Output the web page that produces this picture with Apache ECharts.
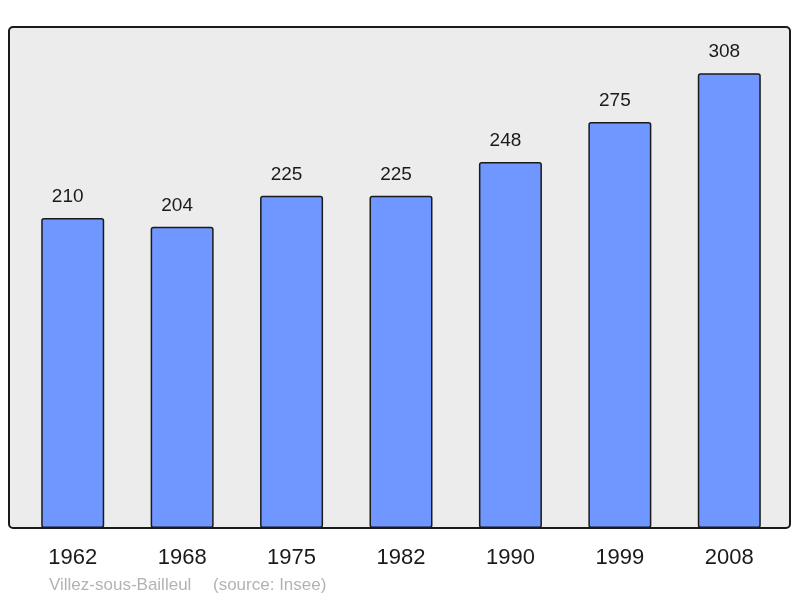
<!DOCTYPE html>
<html>
<head>
<meta charset="utf-8">
<script src="https://cdn.jsdelivr.net/npm/echarts@6/dist/echarts.min.js"></script>
<style>
  html, body { margin: 0; padding: 0; background: #fff; }
  #chart { width: 800px; height: 598px; }
</style>
</head>
<body>
<div id="chart"></div>
<script>
const years = ['1962', '1968', '1975', '1982', '1990', '1999', '2008'];
const population = [210, 204, 225, 225, 248, 275, 308];

const chart = echarts.init(document.getElementById('chart'));

const option = {
  animation: false,
  grid: { left: 18, top: 27, width: 766, bottom: 70 },
  graphic: [
    {
      type: 'rect',
      z: -10,
      shape: { x: 9, y: 27, width: 781, height: 501, r: 4 },
      style: { fill: '#ececec', stroke: '#1a1a1a', lineWidth: 2 }
    },
    {
      type: 'text',
      left: 49, top: 577,
      style: { text: 'Villez-sous-Bailleul', fill: '#b3b3b3', font: '17px "Liberation Sans", Arial, sans-serif' }
    },
    {
      type: 'text',
      left: 213, top: 577,
      style: { text: '(source: Insee)', fill: '#b3b3b3', font: '17px "Liberation Sans", Arial, sans-serif' }
    }
  ],
  xAxis: {
    type: 'category',
    data: years,
    axisLine: { show: false },
    axisTick: { show: false },
    axisLabel: {
      margin: 19,
      color: '#1a1a1a',
      fontSize: 22,
      fontFamily: '"Liberation Sans", Arial, sans-serif'
    }
  },
  yAxis: {
    type: 'value',
    min: 0,
    max: 339.4,
    show: false,
    splitLine: { show: false }
  },
  series: [{
    type: 'bar',
    data: population,
    barWidth: 63,
    itemStyle: {
      color: '#7096ff',
      borderColor: '#1a1a1a',
      borderWidth: 1.5,
      borderRadius: 2
    },
    label: {
      show: true,
      position: 'top',
      distance: 12,
      offset: [-5, 0],
      color: '#1a1a1a',
      fontSize: 19,
      fontFamily: '"Liberation Sans", Arial, sans-serif'
    }
  }]
};

chart.setOption(option);
</script>
</body>
</html>
